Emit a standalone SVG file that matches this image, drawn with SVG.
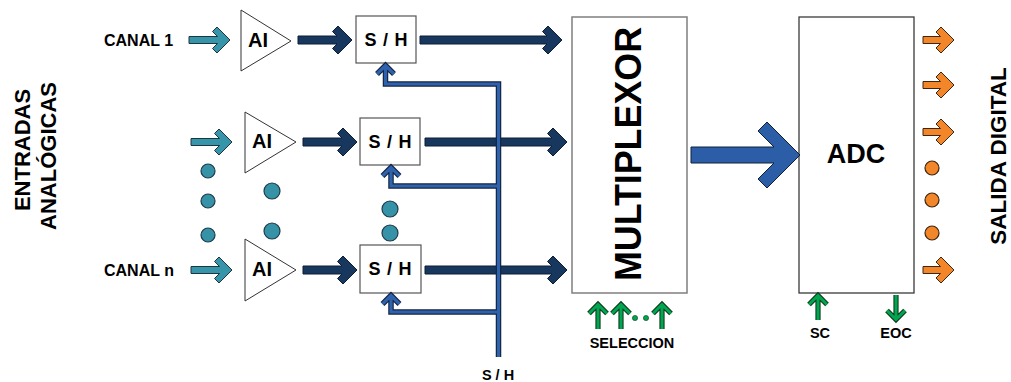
<svg xmlns="http://www.w3.org/2000/svg" xmlns:xlink="http://www.w3.org/1999/xlink" width="1011" height="382" viewBox="0 0 1011 382">
<style>
text{font-family:"Liberation Sans",Arial,sans-serif;font-weight:bold;fill:#000}
.lbl{font-size:14.5px;text-anchor:middle}
.can{font-size:16px}
.ai{font-size:20px}
.sh{font-size:18px;text-anchor:middle}
.amp{fill:#fff;stroke:#333;stroke-width:1}
.box{fill:#fff;stroke:#555;stroke-width:1.2}
.teal{fill:#3795A9;stroke:#1f3440;stroke-width:1}
.navy{fill:#17375E;stroke:#0d1f33;stroke-width:1}
.orng{fill:#F4862A;stroke:#3a2612;stroke-width:1}
.tdot{fill:#3693A7;stroke:#1f3a48;stroke-width:1.2}
.odot{fill:#F4862A;stroke:#3a2612;stroke-width:1.2}
.fbo{fill:none;stroke:#12233f;stroke-width:5.5;stroke-linejoin:miter}
.fbi{fill:none;stroke:#2E62AD;stroke-width:3.2;stroke-linejoin:miter}
.gro{fill:none;stroke:#0e3a1e;stroke-width:5.2;stroke-linejoin:miter}
.gri{fill:none;stroke:#00A650;stroke-width:3;stroke-linejoin:miter}
</style>
<defs>
<path id="aTeal" d="M-41,-3.5 H-12.5 L-17.5,-8.5 L-13,-13 L0,0 L-13,13 L-17.5,8.5 L-12.5,3.5 H-41 Z"/>
<path id="aNavyS" d="M-54,-4 H-15 L-19.5,-8.5 L-14,-14 L0,0 L-14,14 L-19.5,8.5 L-15,4 H-54 Z"/>
<path id="aNavyL" d="M-142,-4 H-15 L-19.5,-8.5 L-14,-14 L0,0 L-14,14 L-19.5,8.5 L-15,4 H-142 Z"/>
<path id="aOrng" d="M-31,-3.5 H-13.5 L-18,-8 L-13,-13 L0,0 L-13,13 L-18,8 L-13.5,3.5 H-31 Z"/>
<path id="gUp" d="M0,25 V0 M-9,9.5 L0,0.5 L9,9.5"/>
</defs>

<g id="title-left">
<text font-size="22" text-anchor="middle" transform="translate(30,150) rotate(-90)">ENTRADAS</text>
<text font-size="22" text-anchor="middle" transform="translate(56,156) rotate(-90)">ANALÓGICAS</text>
</g>

<g id="canal-labels">
<text class="can" x="104" y="46">CANAL 1</text>
<text class="can" x="104" y="276">CANAL n</text>
</g>

<g id="dots">
<circle class="tdot" cx="208" cy="171" r="7"/>
<circle class="tdot" cx="208" cy="201" r="7"/>
<circle class="tdot" cx="208" cy="235" r="7"/>
<circle class="tdot" cx="272" cy="191" r="8"/>
<circle class="tdot" cx="272" cy="231" r="8"/>
<circle class="tdot" cx="390" cy="209" r="8"/>
<circle class="tdot" cx="390" cy="233" r="8"/>
<circle class="odot" cx="932" cy="168" r="7"/>
<circle class="odot" cx="932" cy="200" r="7"/>
<circle class="odot" cx="932" cy="233" r="7"/>
</g>

<g id="amp1"><polygon class="amp" points="241,10 291,41 241,71"/><text class="ai" x="248" y="47">AI</text></g>
<g id="amp2"><polygon class="amp" points="245,112 296,142 245,173"/><text class="ai" x="252" y="148">AI</text></g>
<g id="ampn"><polygon class="amp" points="245,239 296,270 245,301"/><text class="ai" x="252" y="276">AI</text></g>

<g id="sh1"><rect class="box" x="356" y="16" width="60" height="47"/><text class="sh" x="386" y="46" textLength="43">S / H</text></g>
<g id="sh2"><rect class="box" x="360" y="118" width="60" height="47"/><text class="sh" x="390" y="148" textLength="43">S / H</text></g>
<g id="shn"><rect class="box" x="360" y="245" width="61" height="48"/><text class="sh" x="390" y="275" textLength="43">S / H</text></g>

<g id="mux"><rect x="572" y="17" width="115" height="276" fill="#fff" stroke="#7f7f7f" stroke-width="1.5"/>
<text font-size="37" text-anchor="middle" textLength="254" lengthAdjust="spacingAndGlyphs" transform="translate(641,154) rotate(-90)">MULTIPLEXOR</text></g>

<g id="adc"><rect x="799" y="17" width="115" height="276" fill="#fff" stroke="#3a3a3a" stroke-width="1.3"/>
<text font-size="27" text-anchor="middle" x="856" y="163">ADC</text></g>

<g id="title-right">
<text font-size="22.5" text-anchor="middle" transform="translate(1006,156) rotate(-90)">SALIDA DIGITAL</text>
</g>

<g id="connectors">
<use xlink:href="#aTeal" class="teal" transform="translate(230,40)"/>
<use xlink:href="#aTeal" class="teal" transform="translate(232,142)"/>
<use xlink:href="#aTeal" class="teal" transform="translate(232,270)"/>
<use xlink:href="#aNavyS" class="navy" transform="translate(352,40)"/>
<use xlink:href="#aNavyS" class="navy" transform="translate(357,142)"/>
<use xlink:href="#aNavyS" class="navy" transform="translate(357,270)"/>
<use xlink:href="#aNavyL" class="navy" transform="translate(562,40)"/>
<use xlink:href="#aNavyL" class="navy" transform="translate(567,142)"/>
<use xlink:href="#aNavyL" class="navy" transform="translate(567,270)"/>
<path d="M691,147 H774 L758,131 L767,122 L800,155 L767,188 L758,179 L774,163 H691 Z" fill="#2C5EA8" stroke="#10203a" stroke-width="1"/>
<use xlink:href="#aOrng" class="orng" transform="translate(954,40)"/>
<use xlink:href="#aOrng" class="orng" transform="translate(954,85)"/>
<use xlink:href="#aOrng" class="orng" transform="translate(954,132)"/>
<use xlink:href="#aOrng" class="orng" transform="translate(954,270)"/>
<path class="fbo" d="M385.5,65 V84 H498.5 V357 M391,167 V186 H498.5 M391,295 V312 H498.5 M377,74 L385.5,65.5 L394,74 M382.5,176 L391,167.5 L399.5,176 M382.5,304 L391,295.5 L399.5,304"/>
<path class="fbi" d="M385.5,65 V84 H498.5 V357 M391,167 V186 H498.5 M391,295 V312 H498.5 M377,74 L385.5,65.5 L394,74 M382.5,176 L391,167.5 L399.5,176 M382.5,304 L391,295.5 L399.5,304"/>
<g transform="translate(598,304)"><use xlink:href="#gUp" class="gro"/><use xlink:href="#gUp" class="gri"/></g>
<g transform="translate(621,304)"><use xlink:href="#gUp" class="gro"/><use xlink:href="#gUp" class="gri"/></g>
<g transform="translate(662,304)"><use xlink:href="#gUp" class="gro"/><use xlink:href="#gUp" class="gri"/></g>
<circle cx="635" cy="318" r="2.6" fill="#00A650" stroke="#0e3a1e" stroke-width="0.6"/>
<circle cx="646" cy="318" r="2.6" fill="#00A650" stroke="#0e3a1e" stroke-width="0.6"/>
<g transform="translate(818,295)"><use xlink:href="#gUp" class="gro"/><use xlink:href="#gUp" class="gri"/></g>
<g transform="translate(896,320) scale(1,-1)"><use xlink:href="#gUp" class="gro"/><use xlink:href="#gUp" class="gri"/></g>
</g>

<g id="bottom-labels">
<text class="lbl" x="632" y="348">SELECCION</text>
<text class="lbl" x="820" y="338">SC</text>
<text class="lbl" x="896" y="338">EOC</text>
<text class="lbl" x="498" y="380">S / H</text>
</g>
</svg>
